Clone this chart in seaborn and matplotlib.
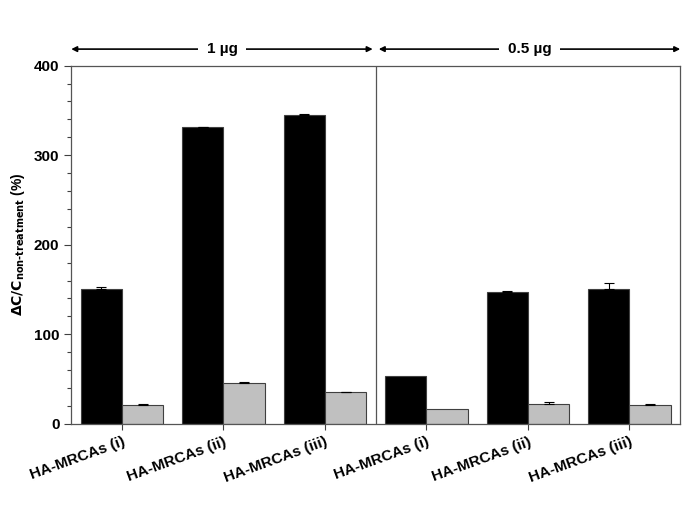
import numpy as np
import pandas as pd
import matplotlib
matplotlib.use("Agg")
import matplotlib.pyplot as plt
import seaborn as sns

# --- Data ---
groups = ["1 µg (i)", "1 µg (ii)", "1 µg (iii)", "0.5 µg (i)", "0.5 µg (ii)", "0.5 µg (iii)"]
tick_labels = ["HA-MRCAs (i)", "HA-MRCAs (ii)", "HA-MRCAs (iii)",
               "HA-MRCAs (i)", "HA-MRCAs (ii)", "HA-MRCAs (iii)"]
treated = [151, 331, 345, 53, 147, 151]
treated_err = [2, 1, 0.5, 0, 1, 6.5]
control = [21, 46, 35, 17, 22.5, 20.5]
control_err = [1.5, 0.5, 0.5, 0, 1.5, 1]
dose_labels = ["1 µg", "0.5 µg"]

df = pd.DataFrame({
    "group": groups * 2,
    "value": treated + control,
    "series": ["treated"] * len(groups) + ["control"] * len(groups),
})

sns.set_style("ticks")
plt.rcParams["font.family"] = ["Liberation Sans", "DejaVu Sans"]
plt.rcParams["font.weight"] = "bold"
plt.rcParams["text.color"] = "black"
plt.rcParams["axes.labelcolor"] = "black"
plt.rcParams["xtick.labelcolor"] = "black"
plt.rcParams["ytick.labelcolor"] = "black"

fig = plt.figure(figsize=(6.85, 5.13), dpi=100)
ax = fig.add_axes([0.104, 0.174, 0.889, 0.698])

sns.barplot(data=df, x="group", y="value", hue="series", order=groups,
            hue_order=["treated", "control"],
            palette={"treated": "black", "control": "#c0c0c0"},
            width=0.81, edgecolor="#404040", linewidth=0.8,
            errorbar=None, legend=False, ax=ax)

# upper-only error bars on each bar
for container, errs in zip(ax.containers, [treated_err, control_err]):
    for patch, e in zip(container.patches, errs):
        if e <= 0:
            continue
        xc = patch.get_x() + patch.get_width() / 2
        top = patch.get_height()
        ax.errorbar(xc, top, yerr=[[0], [e]], fmt="none", ecolor="black",
                    elinewidth=0.8, capsize=3.5, capthick=0.8)

ax.set_xlim(-0.5, len(groups) - 0.5)
ax.set_ylim(0, 400)
ax.set_yticks(np.arange(0, 401, 100))
ax.set_yticks(np.arange(0, 401, 20), minor=True)
ax.set_xticks(range(len(groups)))
ax.set_xticklabels(tick_labels, rotation=20, ha="right", rotation_mode="anchor",
                   fontsize=11, fontweight="bold")
ax.tick_params(axis="y", labelsize=11, length=5, width=0.8, color="#404040")
ax.tick_params(axis="y", which="minor", length=3, width=0.8, color="#404040")
ax.tick_params(axis="x", length=4, width=0.8, color="#404040", pad=4)
for lab in ax.get_yticklabels():
    lab.set_fontweight("bold")

for sp in ax.spines.values():
    sp.set_color("#555555")
    sp.set_linewidth(0.9)

ax.set_xlabel("")
ax.set_ylabel(r"$\mathbf{\Delta C/C_{non\text{-}treatment}}$ (%)", fontsize=10,
              fontweight="bold", labelpad=5)

# divider between the two doses
ax.axvline(2.5, color="#555555", linewidth=0.9)

# dose arrows above the axes
arrow_y = 418.5
spans = [(-0.5, 2.47), (2.53, 5.5)]
for (x0, x1), label in zip(spans, dose_labels):
    ax.annotate("", xy=(x1, arrow_y), xytext=(x0, arrow_y),
                arrowprops=dict(arrowstyle="<|-|>", color="black", lw=1.2,
                                mutation_scale=8, shrinkA=0, shrinkB=0),
                annotation_clip=False)
    ax.text((x0 + x1) / 2, arrow_y, label, ha="center", va="center",
            fontsize=11, fontweight="bold",
            bbox=dict(facecolor="white", edgecolor="none", pad=6))

fig.savefig("out.png", dpi=100)
